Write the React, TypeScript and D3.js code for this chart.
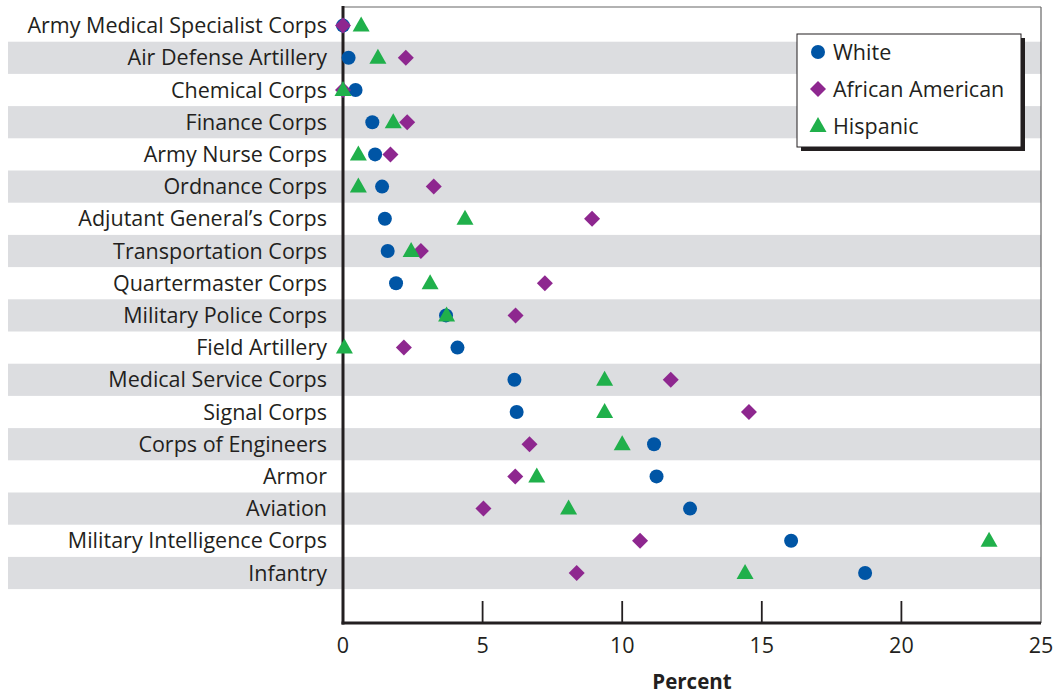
import React from "react";
import * as d3 from "d3";

const categories = [
  "Army Medical Specialist Corps",
  "Air Defense Artillery",
  "Chemical Corps",
  "Finance Corps",
  "Army Nurse Corps",
  "Ordnance Corps",
  "Adjutant General\u2019s Corps",
  "Transportation Corps",
  "Quartermaster Corps",
  "Military Police Corps",
  "Field Artillery",
  "Medical Service Corps",
  "Signal Corps",
  "Corps of Engineers",
  "Armor",
  "Aviation",
  "Military Intelligence Corps",
  "Infantry",
];

const white = [0, 0.2, 0.45, 1.05, 1.15, 1.4, 1.5, 1.6, 1.9, 3.69, 4.1, 6.14, 6.22, 11.14, 11.23, 12.43, 16.05, 18.7];
const africanAmerican = [0, 2.25, 0, 2.3, 1.7, 3.25, 8.92, 2.79, 7.23, 6.18, 2.18, 11.74, 14.54, 6.68, 6.17, 5.03, 10.64, 8.37];
const hispanic = [0.65, 1.25, 0, 1.8, 0.55, 0.55, 4.37, 2.44, 3.12, 3.71, 0.05, 9.37, 9.37, 10.0, 6.94, 8.08, 23.14, 14.4];

const xTicks = [0, 5, 10, 15, 20, 25];
const seriesNames = ["White", "African American", "Hispanic"];

const BLUE = "#0055a5";
const PURPLE = "#8e278f";
const GREEN = "#20b04b";
const BAND = "#dcdde0";
const FONT = "'Open Sans', 'Noto Sans', sans-serif";
const FS = 21.5;

const W = 1054;
const H = 696;
const x0 = 343;
const x1 = 1041;
const rowTop = 9.5;
const rowH = 32.2;
const axisY = 623;
const frameTop = 7;

function Circle({ cx, cy }: { cx: number; cy: number }) {
  return <circle cx={cx} cy={cy} r={7} fill={BLUE} />;
}
function Diamond({ cx, cy }: { cx: number; cy: number }) {
  const s = 8;
  return <path d={`M${cx},${cy - s}L${cx + s},${cy}L${cx},${cy + s}L${cx - s},${cy}Z`} fill={PURPLE} />;
}
function Triangle({ cx, cy }: { cx: number; cy: number }) {
  const w = 8.5;
  const h = 15;
  return <path d={`M${cx},${cy - h * 0.6}L${cx + w},${cy + h * 0.4}L${cx - w},${cy + h * 0.4}Z`} fill={GREEN} />;
}

export default function App() {
  const x = d3.scaleLinear().domain([0, 25]).range([x0, x1]);
  const y = d3
    .scaleBand<string>()
    .domain(categories)
    .range([rowTop, rowTop + rowH * categories.length])
    .padding(0);
  const cy = (c: string) => (y(c) as number) + y.bandwidth() / 2;

  const legX = 797;
  const legY = 34;
  const legW = 224;
  const legH = 113;

  return (
    <svg width={W} height={H} style={{ display: "block", position: "absolute", left: 0, top: 0 }}>
      <rect x={0} y={0} width={W} height={H} fill="#fff" />
      {categories.map((c, i) =>
        i % 2 === 1 ? (
          <rect key={"b" + c} x={8} y={y(c)} width={x1 - 8} height={y.bandwidth()} fill={BAND} />
        ) : null
      )}
      <line x1={x0} y1={frameTop} x2={x1} y2={frameTop} stroke="#666" strokeWidth={1.2} />
      <line x1={x1} y1={frameTop} x2={x1} y2={axisY} stroke="#666" strokeWidth={1.2} />
      {xTicks.slice(1, -1).map((t) => (
        <line key={"t" + t} x1={x(t)} x2={x(t)} y1={axisY - 22} y2={axisY} stroke="#231f20" strokeWidth={1.8} />
      ))}
      <line x1={x0} y1={frameTop - 1} x2={x0} y2={axisY + 1.5} stroke="#231f20" strokeWidth={3} />
      <line x1={x0 - 1.5} y1={axisY} x2={x1} y2={axisY} stroke="#231f20" strokeWidth={3} />
      {xTicks.map((t) => (
        <text key={"l" + t} x={x(t)} y={652.5} textAnchor="middle" fontFamily={FONT} fontSize={FS} fill="#231f20">
          {t}
        </text>
      ))}
      <text x={692} y={689} textAnchor="middle" fontFamily={FONT} fontSize={FS - 1} fontWeight="bold" fill="#231f20">
        Percent
      </text>
      {categories.map((c) => (
        <text key={"c" + c} x={327} y={cy(c) + 7.5} textAnchor="end" fontFamily={FONT} fontSize={FS} fill="#231f20">
          {c}
        </text>
      ))}
      {categories.map((c, i) => (
        <g key={"m" + c}>
          <Circle cx={x(white[i])} cy={cy(c)} />
          <Diamond cx={x(africanAmerican[i])} cy={cy(c)} />
          <Triangle cx={x(hispanic[i])} cy={cy(c)} />
        </g>
      ))}
      <rect x={legX + 4} y={legY + 4} width={legW} height={legH} fill="#231f20" />
      <rect x={legX} y={legY} width={legW} height={legH} fill="#fff" stroke="#231f20" strokeWidth={1} />
      {seriesNames.map((s, i) => {
        const ly = 52 + i * 37;
        return (
          <g key={"lg" + s}>
            {i === 0 && <Circle cx={818} cy={ly} />}
            {i === 1 && <Diamond cx={818} cy={ly} />}
            {i === 2 && <Triangle cx={818} cy={ly} />}
            <text x={833} y={ly + 7.5} fontFamily={FONT} fontSize={FS} fill="#231f20">
              {s}
            </text>
          </g>
        );
      })}
    </svg>
  );
}
